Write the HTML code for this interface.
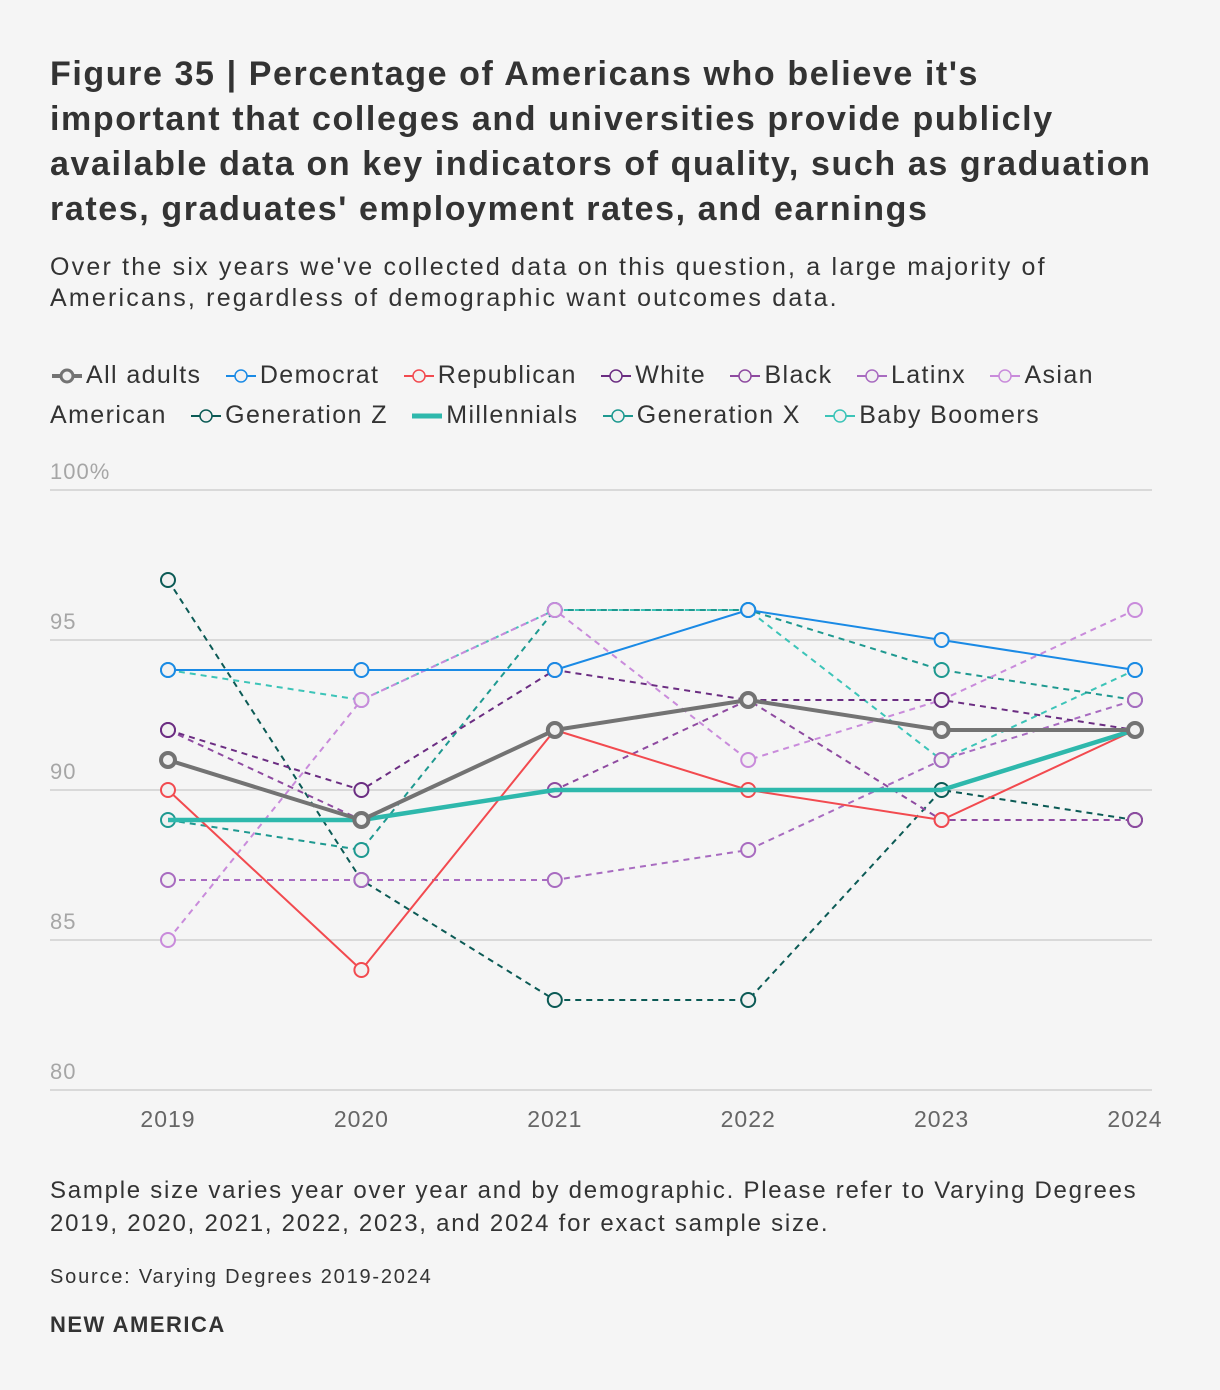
<!DOCTYPE html>
<html><head><meta charset="utf-8">
<style>
body{margin:0;background:#f5f5f5;font-family:"Liberation Sans",sans-serif;color:#333;}
#wrap{position:relative;width:1220px;height:1390px;overflow:hidden;}
.title{position:absolute;left:50px;top:52px;width:1160px;font-size:34px;font-weight:bold;line-height:45px;color:#333;white-space:nowrap;letter-spacing:1.6px;}
.sub{position:absolute;left:50px;top:252px;width:1160px;font-size:25px;line-height:31px;color:#333;white-space:nowrap;letter-spacing:2.2px;}
.legend{position:absolute;left:50px;top:355px;width:1160px;font-size:25px;line-height:40px;color:#333;white-space:nowrap;letter-spacing:1.4px;}
.le{white-space:nowrap;margin-right:14px;}
.le svg{vertical-align:-3px;margin-right:2px;}
.note{position:absolute;left:50px;top:1174px;width:1160px;font-size:24px;line-height:33px;white-space:nowrap;letter-spacing:1.75px;}
.src{position:absolute;left:50px;top:1266px;font-size:20px;letter-spacing:1.8px;}
.brand{position:absolute;left:50px;top:1312px;font-size:22px;font-weight:bold;letter-spacing:1.5px;}
svg text{font-family:"Liberation Sans",sans-serif;}
</style></head><body><div id="wrap">
<div class="title">Figure 35 | Percentage of Americans who believe it's<br>important that colleges and universities provide publicly<br>available data on key indicators of quality, such as graduation<br>rates, graduates' employment rates, and earnings</div>
<div class="sub">Over the six years we've collected data on this question, a large majority of<br>Americans, regardless of demographic want outcomes data.</div>
<div class="legend" id="legend"></div>
<svg id="chart" width="1220" height="1160" style="position:absolute;left:0;top:0"></svg>
<div class="note">Sample size varies year over year and by demographic. Please refer to Varying Degrees<br>2019, 2020, 2021, 2022, 2023, and 2024 for exact sample size.</div>
<div class="src">Source: Varying Degrees 2019-2024</div>
<div class="brand">NEW AMERICA</div>
</div>
<script>
const years = ["2019","2020","2021","2022","2023","2024"];
const yTicks = [80,85,90,95,100];
const seriesNames = ["All adults","Democrat","Republican","White","Black","Latinx","Asian American","Generation Z","Millennials","Generation X","Baby Boomers"];
const allAdults = [91,89,92,93,92,92];
const democrat = [94,94,94,96,95,94];
const republican = [90,84,92,90,89,92];
const white = [92,90,94,93,93,92];
const black = [92,89,90,93,89,89];
const latinx = [87,87,87,88,91,93];
const asianAmerican = [85,93,96,91,93,96];
const genZ = [97,87,83,83,90,89];
const millennials = [89,89,90,90,90,92];
const genX = [89,88,96,96,94,93];
const boomers = [94,93,96,96,91,94];

const values = [allAdults,democrat,republican,white,black,latinx,asianAmerican,genZ,millennials,genX,boomers];
const colors = ["#737373","#1a8ae5","#f24a4f","#6b2d82","#8e4aa0","#a86bc0","#c98bdb","#0b5a55","#2eb8ac","#1e9990","#3cc4b8"];
const widths = [4,2,2,2,2,2,2,2,4.5,2,2];
const dashed = [false,false,false,true,true,true,true,true,false,true,true];
const markers = [true,true,true,true,true,true,true,true,false,true,true];
const slugs = ["all-adults","democrat","republican","white","black","latinx","asian-american","generation-z","millennials","generation-x","baby-boomers"];

const NS="http://www.w3.org/2000/svg";
const svg=document.getElementById('chart');
const x0=168,x1=1135,yTop=490,yBot=1090;
function xS(i){return x0+(x1-x0)*i/(years.length-1);}
function yS(v){return yBot-(v-80)/(100-80)*(yBot-yTop);}
function mk(tag,attrs,parent){const e=document.createElementNS(NS,tag);for(const k in attrs)e.setAttribute(k,attrs[k]);(parent||svg).appendChild(e);return e;}

yTicks.forEach(t=>{
  const g=mk('line',{x1:50,x2:1152,y1:yS(t),y2:yS(t),stroke:'#d9d9d9','stroke-width':2});
  
  
  const tx=mk('text',{x:50,y:yS(t)-11,'font-size':22,fill:'#a6a6a6','letter-spacing':1});
  tx.textContent=t===100?'100%':String(t);
  
  
});
years.forEach((yr,i)=>{
  const tx=mk('text',{x:xS(i),y:1127,'font-size':23,fill:'#666','text-anchor':'middle','letter-spacing':1});
  tx.textContent=yr;
  
  
});
const order=[10,9,7,6,5,4,3,2,1,8,0];
order.forEach(s=>{
  const g=mk('g',{});
  
  
  const pts=values[s].map((v,i)=>xS(i)+','+yS(v)).join(' ');
  const pl=mk('polyline',{points:pts,fill:'none',stroke:colors[s],'stroke-width':widths[s],'stroke-dasharray':dashed[s]?'6 5':'none','stroke-linejoin':'round'},g);
  
  
  if(markers[s]){
    values[s].forEach((v,i)=>{
      const c=mk('circle',{cx:xS(i),cy:yS(v),r:7,fill:'#f1f1f1',stroke:colors[s],'stroke-width':s===0?4:2},g);
      
      
    });
  }
});
const leg=document.getElementById('legend');
seriesNames.forEach((n,s)=>{
  const sp=document.createElement('span');
  sp.className='le';
  
  
  let icon;
  if(!markers[s]) icon='<svg width="34" height="20"><line x1="2" x2="32" y1="10" y2="10" stroke="'+colors[s]+'" stroke-width="5"/></svg>';
  else icon='<svg width="34" height="20"><line x1="2" x2="32" y1="10" y2="10" stroke="'+colors[s]+'" stroke-width="'+(s===0?4:2)+'"/><circle cx="17" cy="10" r="6" fill="#f1f1f1" stroke="'+colors[s]+'" stroke-width="'+(s===0?3:1.5)+'"/></svg>';
  if(n==='Asian American'){
    sp.innerHTML=icon+'Asian';leg.appendChild(sp);
    leg.appendChild(document.createElement('br'));
    const sp2=document.createElement('span');sp2.className='le';sp2.textContent='American';
    
    
    leg.appendChild(sp2);
  } else {sp.innerHTML=icon+n;leg.appendChild(sp);}
  leg.appendChild(document.createTextNode(' '));
});
</script>
</body></html>
